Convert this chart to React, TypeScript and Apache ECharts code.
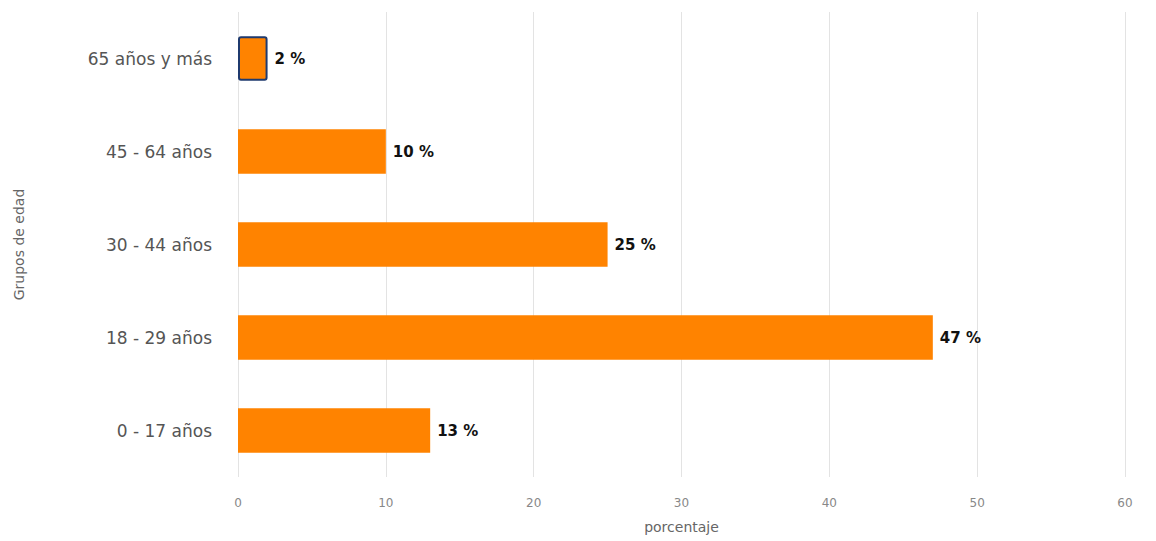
import React, { useEffect, useRef } from "react";
import * as echarts from "echarts";

const categories = ["0 - 17 años", "18 - 29 años", "30 - 44 años", "45 - 64 años", "65 años y más"];
const values = [13, 47, 25, 10, 2];
const xTicks = { min: 0, max: 60, interval: 10 };

export default function App() {
  const ref = useRef<HTMLDivElement>(null);
  useEffect(() => {
    document.body.style.margin = "0";
    const chart = echarts.init(ref.current!, null, { renderer: "svg" });
    chart.setOption({
      animation: false,
      backgroundColor: "#ffffff",
      textStyle: { fontFamily: "DejaVu Sans" },
      grid: { left: 238, right: 31, top: 12, bottom: 64, containLabel: false },
      xAxis: {
        type: "value",
        min: xTicks.min,
        max: xTicks.max,
        interval: xTicks.interval,
        name: "porcentaje",
        nameLocation: "middle",
        nameGap: 43,
        nameTextStyle: { color: "#666", fontSize: 14 },
        axisLine: { show: false },
        axisTick: { show: false },
        axisLabel: { color: "#888", fontSize: 12, margin: 20 },
        splitLine: { show: true, lineStyle: { color: "#e3e3e3", width: 1 } },
      },
      yAxis: {
        type: "category",
        data: categories,
        name: "Grupos de edad",
        nameLocation: "middle",
        nameRotate: 90,
        nameGap: 212,
        nameTextStyle: { color: "#666", fontSize: 14 },
        axisLine: { show: false },
        axisTick: { show: false },
        axisLabel: { color: "#555", fontSize: 17, margin: 26 },
        splitLine: { show: false },
      },
      series: [
        {
          type: "bar",
          data: values.map((v, i) =>
            i === values.length - 1
              ? { value: v, itemStyle: { borderColor: "#1f3a6e", borderWidth: 2, borderRadius: 2 } }
              : v
          ),
          barWidth: "48%",
          itemStyle: { color: "#ff8300" },
          label: {
            show: true,
            position: "right",
            formatter: "{c} %",
            color: "#111",
            fontWeight: "bold",
            fontSize: 15,
            distance: 7,
          },
        },
      ],
    });
    return () => chart.dispose();
  }, []);
  return <div ref={ref} style={{ width: 1156, height: 541 }} />;
}
